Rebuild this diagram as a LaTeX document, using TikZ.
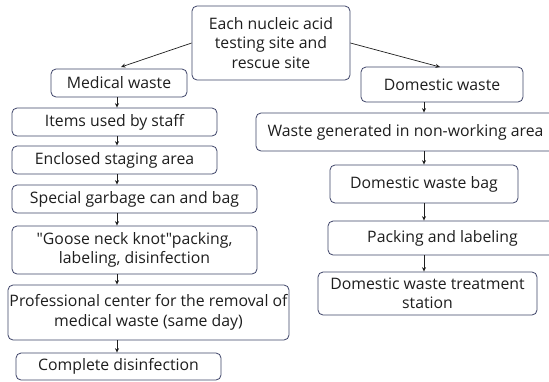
\documentclass[tikz,border=0pt]{standalone}
\usepackage{fontspec}
\setmainfont{Open Sans}[Ligatures=TeXOff]
\usetikzlibrary{arrows.meta}
\definecolor{boxline}{HTML}{3E4468}
\definecolor{txt}{HTML}{1E1E1E}
\begin{document}
\begin{tikzpicture}[x=1pt,y=-1pt,
  wbox/.style={draw=boxline, line width=0.8pt, rounded corners=5pt, fill=white,
    align=center, inner sep=0pt, text=txt,
    font=\fontsize{15.8}{19.5}\selectfont},
  arr/.style={draw=txt, line width=0.7pt, -{Stealth[length=4.5pt,width=4pt]}}]
\useasboundingbox (0,0) rectangle (549,381);
\clip (0,0) rectangle (549,381);
\fill[white] (0,0) rectangle (549,381);
% top
\node[wbox, minimum width=158pt, minimum height=74pt] (top) at (271,43)
  {Each nucleic acid\\testing site and\\rescue site};
% left column
\node[wbox, minimum width=136pt, minimum height=28pt] (med) at (119,83) {Medical waste};
\node[wbox, minimum width=205pt, minimum height=28pt] (items) at (114.5,122) {Items used by staff};
\node[wbox, minimum width=205pt, minimum height=28pt] (encl) at (114.5,160) {Enclosed staging area};
\node[wbox, minimum width=245pt, minimum height=28pt] (spec) at (134.5,199) {Special garbage can and bag};
\node[wbox, minimum width=245pt, minimum height=48pt] (goose) at (134.5,250)
  {"Goose neck knot"packing,\\labeling, disinfection};
\node[wbox, minimum width=281pt, minimum height=55pt] (prof) at (148.5,312.5)
  {Professional center for the removal of\\medical waste (same day)};
\node[wbox, minimum width=205pt, minimum height=27pt] (comp) at (118.5,366.5) {Complete disinfection};
% right column
\node[wbox, minimum width=162pt, minimum height=35pt] (dom) at (442,84.5) {Domestic waste};
\node[wbox, minimum width=299pt, minimum height=38pt] (gen) at (405.5,132) {Waste generated in non-working area};
\node[wbox, minimum width=188pt, minimum height=38pt] (bag) at (424,184) {Domestic waste bag};
\node[wbox, minimum width=229pt, minimum height=34pt] (pack) at (442.5,238) {Packing and labeling};
\node[wbox, minimum width=219pt, minimum height=43pt] (stat) at (427.5,293.5)
  {Domestic waste treatment\\station};
% guide coordinates
\coordinate (lx) at (117,0);
\coordinate (rx) at (424,0);
\coordinate (tl) at (121,67);
\coordinate (tr) at (440,67);
% connectors
\draw[arr] (top.west) -- (tl);
\draw[arr] (top.east) -- (tr);
\draw[arr] (med.south -| lx) -- (items.north -| lx);
\draw[arr] (items.south -| lx) -- (encl.north -| lx);
\draw[arr] (encl.south -| lx) -- (spec.north -| lx);
\draw[arr] (spec.south -| lx) -- (goose.north -| lx);
\draw[arr] (goose.south -| lx) -- (prof.north -| lx);
\draw[arr] (prof.south -| lx) -- (comp.north -| lx);
\draw[arr] (dom.south -| rx) -- (gen.north -| rx);
\draw[arr] (gen.south -| rx) -- (bag.north -| rx);
\draw[arr] (bag.south -| rx) -- (pack.north -| rx);
\draw[arr] (pack.south -| rx) -- (stat.north -| rx);
\end{tikzpicture}
\end{document}
